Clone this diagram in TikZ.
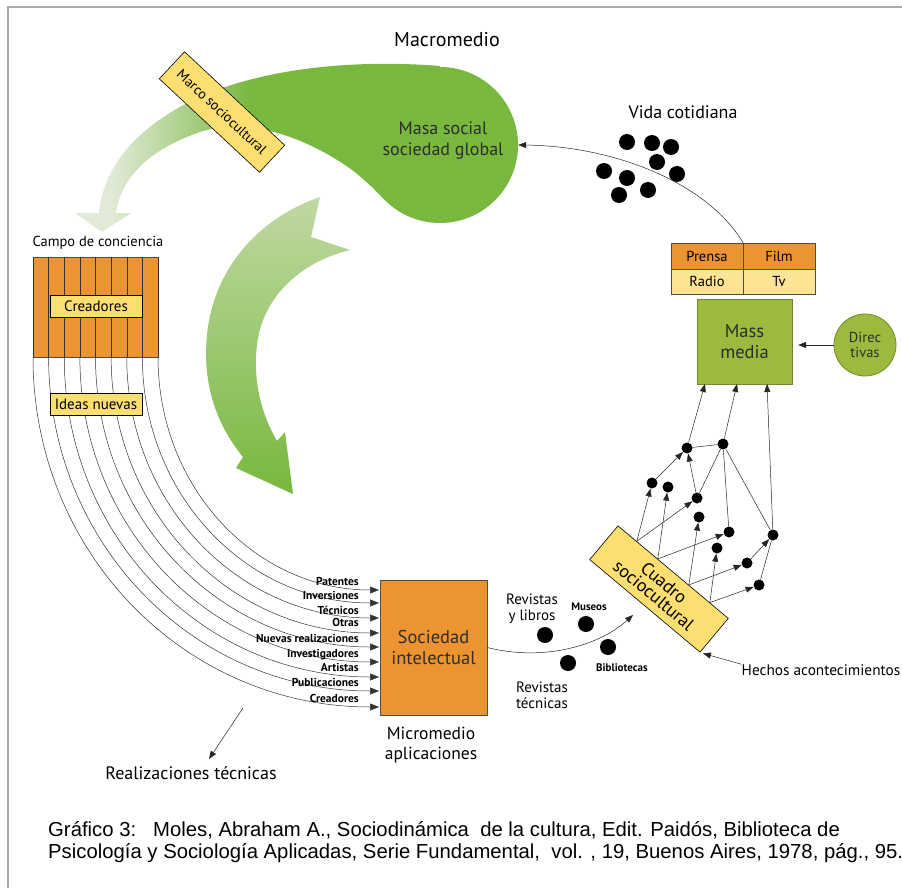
\documentclass[tikz,border=0pt]{standalone}
\usepackage{fontspec}
\setmainfont{PT Sans}
\newfontfamily\capfont{Liberation Sans}
\usetikzlibrary{arrows.meta,calc}

\definecolor{orng}{RGB}{236,148,50}
\definecolor{ylw}{RGB}{253,222,112}
\definecolor{ylwlt}{RGB}{253,228,148}
\definecolor{grn}{RGB}{120,184,62}
\definecolor{grnmid}{RGB}{172,208,138}
\definecolor{grnpale}{RGB}{224,234,214}
\definecolor{grnlt}{RGB}{192,216,162}
\definecolor{olive}{RGB}{155,186,62}
\definecolor{olivedk}{RGB}{112,140,40}
\definecolor{txtgray}{RGB}{45,45,45}
\definecolor{framegray}{RGB}{170,170,170}

% fade of the band from the social mass to the field of consciousness
\pgfdeclarehorizontalshading{bandfade}{100bp}{color(0bp)=(grnpale); color(30bp)=(grnpale); color(40bp)=(grnmid); color(49bp)=(grn); color(100bp)=(grn)}

\newcommand{\fs}[1]{\fontsize{#1}{#1}\selectfont}

\begin{document}
\begin{tikzpicture}[x=1pt,y=-1pt,
  lbl/.style={inner sep=0pt, align=center, text=black},
  ybox/.style={draw=black, line width=0.6pt, fill=ylw, inner sep=0pt},
  obox/.style={draw=black!70, line width=0.4pt, fill=orng, inner sep=0pt},
  dot/.style={circle, fill=black, inner sep=0pt, minimum size=11pt},
  bigdot/.style={circle, fill=black, inner sep=0pt, minimum size=16pt},
  ln/.style={line width=0.5pt, draw=black!85},
  arr/.style={ln, -{Triangle[length=8pt,width=6pt]}},
  flow/.style={line width=0.5pt, draw=black!80},
  tinylbl/.style={inner sep=0pt, font=\bfseries\fs{11.5}},
]
\useasboundingbox (0,0) rectangle (902,888);

% outer frame
\draw[framegray, line width=1.4pt] (8,888) -- (8,7) -- (902,7);

% ---------- green band towards the field of consciousness ----------
\shade[shading=bandfade]
  (440,66) .. controls (340,58) and (240,72) .. (178,108)
  .. controls (128,137) and (103,172) .. (99,213)
  -- (75,213) -- (102,232) -- (131,213) -- (116,213)
  .. controls (121,178) and (148,150) .. (200,132)
  .. controls (245,117) and (300,135) .. (345,165)
  .. controls (360,175) and (372,187) .. (385,200)
  -- (430,150) -- cycle;

% ---------- curved green arrow down to the intellectual society ----------
\shade[top color=grnlt, bottom color=grn]
  (320,197) .. controls (262,217) and (214,265) .. (207,335)
  .. controls (202,385) and (217,425) .. (243,457)
  -- (236,468) -- (293,494) -- (285,432) -- (277,441)
  .. controls (260,412) and (253,378) .. (257,345)
  .. controls (262,298) and (300,262) .. (350,250)
  -- (311,237) -- cycle;

% ---------- macro medium ----------
\node[circle, fill=grn, minimum size=156pt, inner sep=0pt] (masa) at (440,145) {};
\node[lbl, text=txtgray, font=\fs{18}] (masatxt) at (443,141) {Masa social\\[3pt]sociedad global};
\node[lbl, font=\fs{20}] (macro) at (447,40) {Macromedio};

\node[ybox, rotate=-43, minimum width=137pt, minimum height=37pt, font=\fs{14}] (marco) at (222,112) {Marco sociocultural};

% ---------- field of consciousness ----------
\node[lbl, font=\fs{14.5}] (campo) at (98,243) {Campo de conciencia};
\node[obox, minimum width=125pt, minimum height=100pt] (campobox) at (95.5,307) {};

% nine flows from the field to the intellectual society
\foreach \i/\y in {0/707, 1/691, 2/677, 3/662, 4/647, 5/633, 6/618, 7/603, 8/590} {
  \pgfmathsetmacro\xs{33+15.625*\i}
  \coordinate (ft\i) at (\xs,257);
  \coordinate (fs\i) at (\xs,357);
  \coordinate (fe\i) at (379,\y);
  \draw[flow] (ft\i) -- (fs\i);
  \draw[flow, -{Triangle[length=9pt,width=7pt]}] (fs\i) .. controls +(0,{0.56*(\y-357)}) and +({-0.56*(379-\xs)},0) .. (fe\i);
}

\node[ybox, minimum width=92pt, minimum height=22pt, font=\fs{15}] (creadores) at (96,306) {Creadores};
\node[ybox, minimum width=92pt, minimum height=22pt, font=\fs{15}] (ideas) at (96,404) {Ideas nuevas};

% flow labels
\node[tinylbl, anchor=base east] (l1) at (359,585) {Patentes};
\node[tinylbl, anchor=base east] (l2) at (359,599) {Inversiones};
\node[tinylbl, anchor=base east] (l3) at (359,614) {Técnicos};
\node[tinylbl, anchor=base east] (l4) at (359,626) {Otras};
\node[tinylbl, anchor=base east] (l5) at (359,642) {Nuevas realizaciones};
\node[tinylbl, anchor=base east] (l6) at (359,657) {Investigadores};
\node[tinylbl, anchor=base east] (l7) at (359,671) {Artistas};
\node[tinylbl, anchor=base east] (l8) at (359,686) {Publicaciones};
\node[tinylbl, anchor=base east] (l9) at (359,702) {Creadores};

% ---------- micro medium ----------
\node[obox, minimum width=107pt, minimum height=135pt, text=txtgray, font=\fs{18.5}, align=center] (soc) at (433.5,647.5) {Sociedad\\[2pt]intelectual};
\node[lbl, font=\fs{17.5}] (micro) at (431,745) {Micromedio\\[3pt]aplicaciones};

\node[lbl, font=\fs{18}] (real) at (191,773) {Realizaciones técnicas};
\coordinate (realfrom) at (243,708);
\coordinate (realto) at (209,759);
\draw[arr] (realfrom) -- (realto);

% ---------- cultural channels ----------
\node[bigdot] (rl) at (545,635) {};
\node[bigdot] (mu) at (586,624) {};
\node[bigdot] (bi) at (608,647) {};
\node[bigdot] (rt) at (568,663) {};
\node[lbl, font=\fs{15}] (rltxt) at (532,609) {Revistas\\[1pt]y libros};
\node[lbl, font=\bfseries\fs{11}] (mutxt) at (589,607) {Museos};
\node[lbl, font=\bfseries\fs{11}] (bitxt) at (622,668) {Bibliotecas};
\node[lbl, font=\fs{15}] (rttxt) at (542,695) {Revistas\\[1pt]técnicas};

\node[ybox, rotate=-40, minimum width=144pt, minimum height=44pt, font=\fs{18}, align=center] (cuadro) at (659,589) {Cuadro\\[-2pt]sociocultural};
\coordinate (socto) at (633,615);
\draw[arr] (soc.east) .. controls (545,662) and (600,645) .. (socto);

\node[lbl, font=\fs{15.3}] (hechos) at (821,670) {Hechos acontecimientos};
\draw[arr, shorten >=3pt] (hechos.north west) -- (cuadro.south east);

% ---------- mass media ----------
\node[obox, minimum width=72pt, minimum height=26pt, font=\fs{14.5}] (prensa) at (707,256) {Prensa};
\node[obox, minimum width=72pt, minimum height=26pt, font=\fs{14.5}] (film) at (779,256) {Film};
\node[obox, fill=ylwlt, minimum width=72pt, minimum height=25pt, font=\fs{14.5}] (radio) at (707,281.5) {Radio};
\node[obox, fill=ylwlt, minimum width=72pt, minimum height=25pt, font=\fs{14.5}] (tv) at (779,281.5) {Tv};

\node[draw=olivedk, line width=0.4pt, fill=olive, minimum width=95pt, minimum height=85pt, inner sep=0pt, text=txtgray, font=\fs{18.5}, align=center] (mm) at (744.5,341.5) {Mass\\[3pt]media};
\node[circle, draw=olivedk, line width=0.8pt, fill=olive, minimum size=62pt, inner sep=0pt, text=txtgray, font=\fs{14.5}, align=center] (dir) at (865,345) {Direc\\[1pt]tivas};
\draw[arr, shorten >=6pt] (dir.west) -- (mm.east |- dir.west);

% ---------- everyday life ----------
\node[lbl, font=\fs{18}] (vida) at (683,112) {Vida cotidiana};
\node[bigdot] (v1) at (627,142) {};
\node[bigdot] (v2) at (652,143) {};
\node[bigdot] (v3) at (671,147) {};
\node[bigdot] (v4) at (657,162) {};
\node[bigdot] (v5) at (677,174) {};
\node[bigdot] (v6) at (604,171) {};
\node[bigdot] (v7) at (627,178) {};
\node[bigdot] (v8) at (648,190) {};
\node[bigdot] (v9) at (619,195) {};
\draw[arr] (prensa.north east) .. controls (705,180) and (610,146) .. (masa.east);

% ---------- network between the cultural frame and the mass media ----------
\node[dot] (nA) at (687,448) {};
\node[dot] (nB) at (723,444) {};
\node[dot] (nC) at (652,483) {};
\node[dot] (nD) at (668,487) {};
\node[dot] (nE) at (697,498) {};
\node[dot] (nF) at (699,517) {};
\node[dot] (nG) at (729,532) {};
\node[dot] (nH) at (717,548) {};
\node[dot] (nI) at (773,535) {};
\node[dot] (nJ) at (747,563) {};
\node[dot] (nK) at (759,585) {};

\coordinate (m1) at (705,384);
\coordinate (m2) at (737,384);
\coordinate (m3) at (767,384);
\coordinate (c1) at ($(cuadro.north west)!0.17!(cuadro.north east)$);
\coordinate (c2) at ($(cuadro.north west)!0.36!(cuadro.north east)$);
\coordinate (c3) at ($(cuadro.north west)!0.64!(cuadro.north east)$);
\coordinate (c4) at ($(cuadro.north west)!0.83!(cuadro.north east)$);

\draw[arr] (nA) -- (m1);
\draw[arr] (nB) -- (m2);
\draw[arr] (nI) -- (m3);
\draw[ln] (nA) -- (nB);
\draw[ln] (nB) -- (nE);
\draw[ln] (nB) -- (nG);
\draw[ln] (nB) -- (nI);
\draw[ln] (nI) -- (nK);
\draw[arr] (nC) -- (nA);
\draw[arr] (nE) -- (nA);
\draw[arr] (nJ) -- (nI);
\draw[arr] (c1) -- (nC);
\draw[arr] (c1) -- (nE);
\draw[arr] (c2) -- (nD);
\draw[arr] (c2) -- (nG);
\draw[arr] (c3) -- (nF);
\draw[arr] (c3) -- (nJ);
\draw[arr] (c4) -- (nH);
\draw[arr] (c4) -- (nK);

% ---------- source ----------
\node[inner sep=0pt, anchor=base west, font=\capfont\fs{20.3}] (cap1) at (48,836) {Gráfico 3:\ \ \ Moles, Abraham A., Sociodinámica\ \ de la cultura, Edit. Paidós, Biblioteca de};
\node[inner sep=0pt, anchor=base west, font=\capfont\fs{20.3}] (cap2) at (48,858) {Psicología y Sociología Aplicadas, Serie Fundamental,\ \ vol. , 19, Buenos Aires, 1978, pág., 95.};
\end{tikzpicture}
\end{document}
